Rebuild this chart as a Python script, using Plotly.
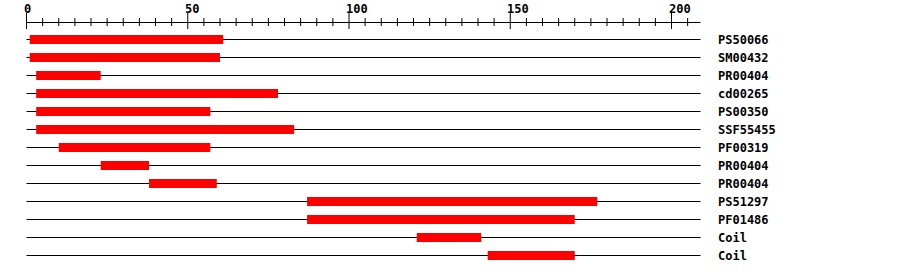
import plotly.graph_objects as go

# ---- data ----
names = ["PS50066", "SM00432", "PR00404", "cd00265", "PS00350", "SSF55455",
         "PF00319", "PR00404", "PR00404", "PS51297", "PF01486", "Coil", "Coil"]
starts = [1, 1, 3, 3, 3, 3, 10, 23, 38, 87, 87, 121, 143]
ends = [61, 60, 23, 78, 57, 83, 57, 38, 59, 177, 170, 141, 170]
seq_length = 209
major_ticks = [0, 50, 100, 150, 200]
minor_ticks = [v for v in range(0, seq_length + 1, 5) if v % 50 != 0]
tick_labels = [str(v) for v in major_ticks]

rows = list(range(len(names)))
W, H = 900, 274
PX = 3.225          # pixels per residue
X0 = 26.5           # pixel of residue 0
ROW0, ROWH = 39.5, 18.0

def yrow(py):
    return (py - ROW0) / ROWH

fig = go.Figure()

# backbone lines
fig.add_trace(go.Bar(
    y=rows, x=[seq_length] * len(rows), base=[0] * len(rows),
    orientation="h", width=1 / ROWH,
    marker=dict(color="black", line=dict(width=0)), hoverinfo="skip"))

# domain bars
fig.add_trace(go.Bar(
    y=rows, x=[e - s for s, e in zip(starts, ends)], base=starts,
    orientation="h", width=9 / ROWH,
    marker=dict(color="#ff0000", line=dict(width=0)),
    customdata=names, hovertemplate="%{customdata}: %{base}-%{x}<extra></extra>"))

# ruler axis line
ay = yrow(22.5)
fig.add_trace(go.Scatter(x=[0, seq_length], y=[ay, ay], mode="lines",
                         line=dict(color="black", width=1), hoverinfo="skip"))
# major ticks
mx, my = [], []
for t in major_ticks:
    mx += [t, t, None]
    my += [yrow(13), yrow(29), None]
fig.add_trace(go.Scatter(x=mx, y=my, mode="lines",
                         line=dict(color="black", width=1), hoverinfo="skip"))
# minor ticks
nx, ny = [], []
for t in minor_ticks:
    nx += [t, t, None]
    ny += [yrow(18), yrow(26), None]
fig.add_trace(go.Scatter(x=nx, y=ny, mode="lines",
                         line=dict(color="black", width=1), hoverinfo="skip"))

font = dict(family="DejaVu Sans Mono", size=12, color="black", weight="bold")
annotations = []
for t, lab in zip(major_ticks, tick_labels):
    annotations.append(dict(x=t, y=yrow(8.5), text=lab, showarrow=False,
                            xanchor="left", yanchor="middle", xshift=-3,
                            font=font, borderpad=0, borderwidth=0))
for r, n in zip(rows, names):
    annotations.append(dict(x=(719 - X0) / PX, y=r, text=n, showarrow=False,
                            xanchor="left", yanchor="middle", xshift=-1,
                            font=font, borderpad=0, borderwidth=0))

fig.update_layout(
    width=W, height=H, margin=dict(l=0, r=0, t=0, b=0, pad=0),
    paper_bgcolor="white", plot_bgcolor="white",
    barmode="overlay", showlegend=False, annotations=annotations,
    xaxis=dict(visible=False, range=[-X0 / PX, (W - X0) / PX], fixedrange=True),
    yaxis=dict(visible=False, range=[yrow(H), yrow(0)], fixedrange=True),
)

fig.write_html("out.html")
